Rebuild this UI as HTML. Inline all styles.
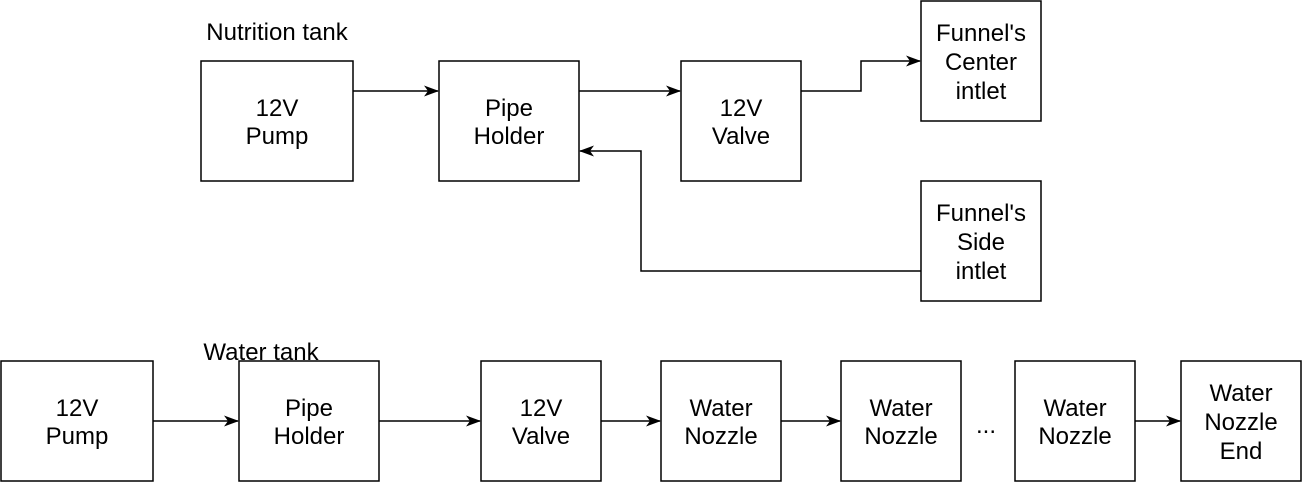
<!DOCTYPE html>
<html><head><meta charset="utf-8"><style>
html,body{margin:0;padding:0;background:#fff;}
body{width:1302px;height:484px;overflow:hidden;}
svg text{font-family:"Liberation Sans",Arial,sans-serif;font-size:24px;fill:#000;}
</style></head><body>
<svg width="1302" height="484" viewBox="0 0 1302 484" xmlns="http://www.w3.org/2000/svg">
<defs><marker id="a" markerWidth="16" markerHeight="12" refX="14" refY="6" orient="auto" markerUnits="userSpaceOnUse"><path d="M0,0.5 L15,6 L0,11.5 L4,6 z" fill="#000"/></marker></defs>
<g fill="#fff" stroke="#000" stroke-width="1.5">
<rect x="201" y="61" width="152" height="120"/>
<rect x="439" y="61" width="140" height="120"/>
<rect x="681" y="61" width="120" height="120"/>
<rect x="921" y="1" width="120" height="120"/>
<rect x="921" y="181" width="120" height="120"/>
<rect x="1" y="361" width="152" height="120"/>
<rect x="239" y="361" width="140" height="120"/>
<rect x="481" y="361" width="120" height="120"/>
<rect x="661" y="361" width="120" height="120"/>
<rect x="841" y="361" width="120" height="120"/>
<rect x="1015" y="361" width="120" height="120"/>
<rect x="1181" y="361" width="120" height="120"/>
</g>
<g fill="none" stroke="#000" stroke-width="1.5" marker-end="url(#a)">
<path d="M353,91 H438"/>
<path d="M579,91 H680"/>
<path d="M801,91 H861 V61 H920"/>
<path d="M921,271 H641 V151 H580"/>
<path d="M153,421 H238"/>
<path d="M379,421 H480"/>
<path d="M601,421 H660"/>
<path d="M781,421 H840"/>
<path d="M1135,421 H1180"/>
</g>
<g text-anchor="middle">
<text x="277" y="116">12V</text><text x="277" y="144">Pump</text>
<text x="509" y="116">Pipe</text><text x="509" y="144">Holder</text>
<text x="741" y="116">12V</text><text x="741" y="144">Valve</text>
<text x="981" y="41">Funnel's</text><text x="981" y="70">Center</text><text x="981" y="99">intlet</text>
<text x="981" y="221">Funnel's</text><text x="981" y="250">Side</text><text x="981" y="279">intlet</text>
<text x="77" y="416">12V</text><text x="77" y="444">Pump</text>
<text x="309" y="416">Pipe</text><text x="309" y="444">Holder</text>
<text x="541" y="416">12V</text><text x="541" y="444">Valve</text>
<text x="721" y="416">Water</text><text x="721" y="444">Nozzle</text>
<text x="901" y="416">Water</text><text x="901" y="444">Nozzle</text>
<text x="1075" y="416">Water</text><text x="1075" y="444">Nozzle</text>
<text x="1241" y="401">Water</text><text x="1241" y="430">Nozzle</text><text x="1241" y="459">End</text>
<text x="986" y="433">...</text>
<text x="277" y="40">Nutrition tank</text>
<text x="261" y="360">Water tank</text>
</g>
</svg>
</body></html>
